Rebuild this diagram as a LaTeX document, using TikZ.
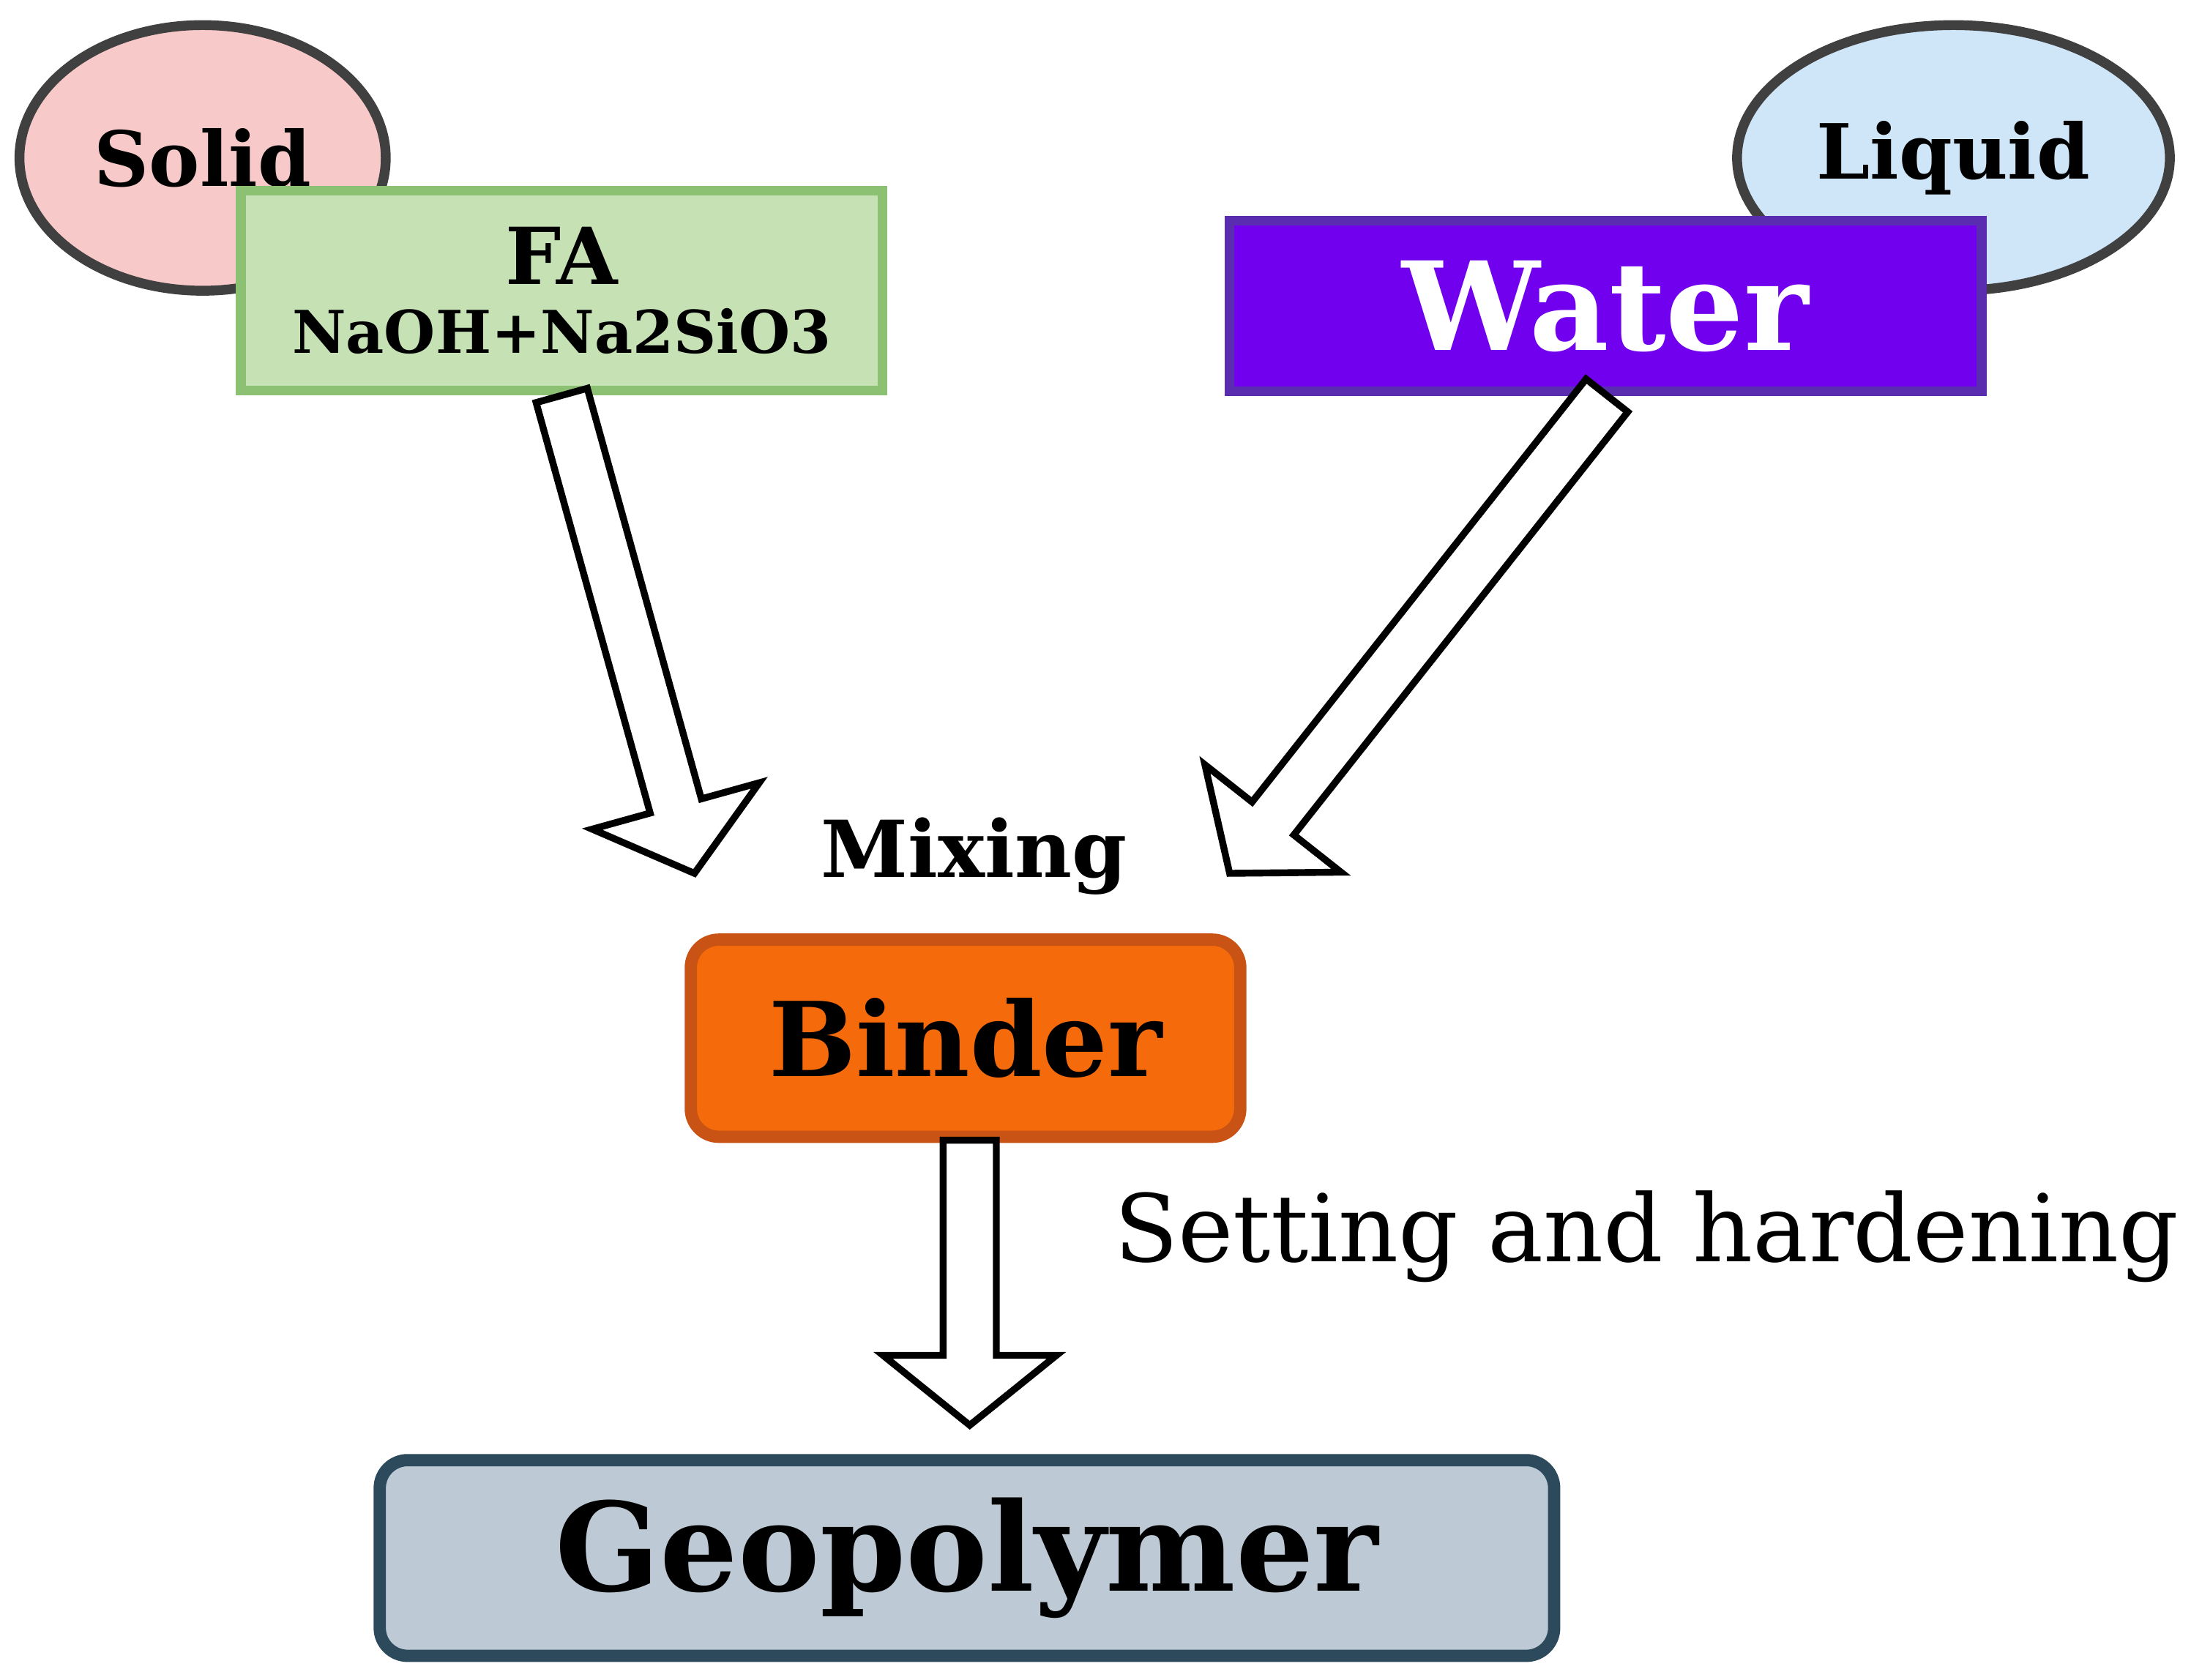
\documentclass[tikz,border=0pt]{standalone}
\usepackage{fontspec}
\setmainfont{DejaVu Serif}
\usetikzlibrary{calc,shapes.geometric}
\definecolor{pinkf}{HTML}{F8C9C9}
\definecolor{bluef}{HTML}{CFE5F8}
\definecolor{greenf}{HTML}{C6E2B5}
\definecolor{greenb}{HTML}{8CC072}
\definecolor{purplef}{HTML}{7000EE}
\definecolor{purpleb}{HTML}{5A2DB0}
\definecolor{orangef}{HTML}{F56A0A}
\definecolor{orangeb}{HTML}{C85314}
\definecolor{geof}{HTML}{BDCAD6}
\definecolor{geob}{HTML}{2C4A5C}
\tikzset{
  ell/.style={ellipse, draw=black!75, line width=2pt, minimum width=2.62cm, minimum height=1.9cm, font=\bfseries\fontsize{15.5}{18}\selectfont},
  lbl/.style={font=\bfseries\fontsize{16}{19}\selectfont},
  hollow/.style={draw=black, fill=white, line width=1.4pt, line join=miter}
}
\newcommand{\hollowarrow}[2]{%
  \path ($(#2)!0.5cm!(#1)$) coordinate (hh);
  \draw[hollow] ($(#1)!0.19cm!90:(#2)$) -- ($(hh)!0.19cm!-90:(#1)$) -- ($(hh)!0.62cm!-90:(#1)$) -- (#2)
   -- ($(hh)!0.62cm!90:(#1)$) -- ($(hh)!0.19cm!90:(#1)$) -- ($(#1)!0.19cm!-90:(#2)$) -- cycle;}
\begin{document}
\begin{tikzpicture}[x=0.01cm,y=-0.01cm]
\useasboundingbox (0,0) rectangle (1568,1202);
\node[ell, fill=pinkf] (solid) at (145,113) {Solid};
\node[ell, fill=bluef] (liquid) at (1398,113) {Liquid};
\node[draw=greenb, line width=2pt, fill=greenf, minimum width=4.59cm, minimum height=1.43cm, align=center, inner sep=0pt] (fa) at (402,208)
  {\bfseries\fontsize{16}{20}\selectfont FA\\[2pt]\bfseries\fontsize{12}{14}\selectfont NaOH+Na2SiO3};
\node[draw=purpleb, line width=2pt, fill=purplef, minimum width=5.38cm, minimum height=1.22cm, text=white, font=\bfseries\fontsize{25}{28}\selectfont] (water) at (1149,219) {Water};
\node[lbl] (mixing) at (697,613) {Mixing};
\node[draw=orangeb, line width=2.5pt, fill=orangef, rounded corners=0.2cm, minimum width=3.93cm, minimum height=1.41cm, font=\bfseries\fontsize{21}{24}\selectfont] (binder) at (691,743) {Binder};
\node[font=\fontsize{19}{23}\selectfont, anchor=west] (set) at (785,885) {Setting and hardening};
\node[draw=geob, line width=2.5pt, fill=geof, rounded corners=0.2cm, minimum width=8.4cm, minimum height=1.4cm, font=\bfseries\fontsize{25}{28}\selectfont] (geo) at (692,1115) {Geopolymer};
\coordinate (a1s) at (402,283); \coordinate (a1e) at (497,625);
\coordinate (a2s) at (1150,283); \coordinate (a2e) at (880,625);
\coordinate (a3s) at (694,816); \coordinate (a3e) at (694,1020);
\hollowarrow{a1s}{a1e}
\hollowarrow{a2s}{a2e}
\hollowarrow{a3s}{a3e}
\end{tikzpicture}
\end{document}
